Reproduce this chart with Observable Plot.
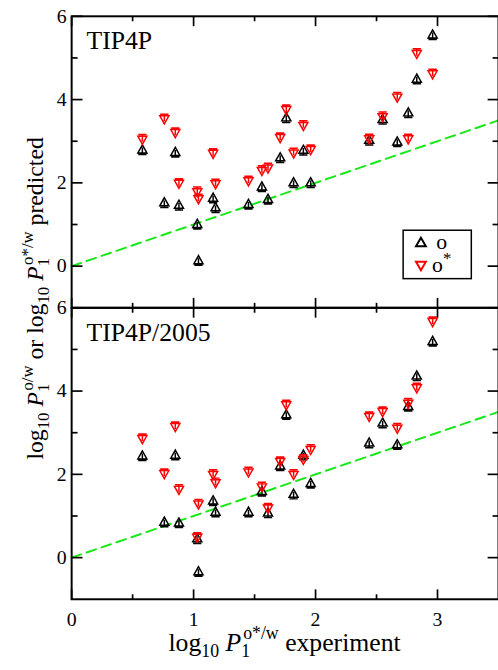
<!DOCTYPE html>
<html>
<head>
<meta charset="utf-8">
<script src="https://cdn.jsdelivr.net/npm/d3@7"></script>
<script src="https://cdn.jsdelivr.net/npm/@observablehq/plot@0.6"></script>
<style>
  html, body { margin: 0; padding: 0; background: white; overflow: hidden; }
  #chart { width: 498px; height: 670px; overflow: hidden; position: relative; }
</style>
</head>
<body>
<div id="chart"></div>
<script>
// ---- data ----
const panels = ["TIP4P", "TIP4P/2005"];
const xExp = [0.58, 0.76, 0.85, 0.88, 1.03, 1.04, 1.16, 1.18, 1.45, 1.56, 1.61, 1.71, 1.76, 1.82, 1.90, 1.96, 2.44, 2.55, 2.67, 2.76, 2.83, 2.96];
const tip4pO = [2.79, 1.52, 2.73, 1.46, 1.00, 0.13, 1.63, 1.40, 1.48, 1.90, 1.60, 2.60, 3.56, 2.00, 2.78, 2.00, 3.02, 3.52, 2.98, 3.68, 4.49, 5.55];
const tip4pOs = [3.05, 3.54, 3.21, 1.99, 1.79, 1.62, 2.71, 1.98, 2.05, 2.30, 2.36, 3.09, 3.76, 2.72, 3.38, 2.80, 3.06, 3.59, 4.06, 3.06, 5.11, 4.62];
const tip2005O = [2.44, 0.85, 2.46, 0.83, 0.45, -0.34, 1.36, 1.09, 1.09, 1.59, 1.07, 2.20, 3.43, 1.52, 2.46, 1.78, 2.75, 3.23, 2.71, 3.63, 4.36, 5.19];
const tip2005Os = [2.86, 2.02, 3.15, 1.64, 0.49, 1.29, 2.00, 1.80, 2.06, 1.70, 1.19, 2.31, 3.67, 2.00, 2.36, 2.60, 3.39, 3.51, 3.11, 3.71, 4.08, 5.67];
const refLine = [0, 3.5];          // y = x guide
const xDomain = [0, 3.5];
const yDomain = [-1, 6];
const xMajor = [0, 1, 2, 3];
const xMinor = [0.5, 1.5, 2.5];
const yMajor = [0, 2, 4, 6];
const yMinor = [1, 3, 5];
const seriesNames = ["o", "o*"];

// ---- build rows ----
const rows = [];
xExp.forEach((x, i) => {
  rows.push({panel: panels[0], series: "o", x, y: tip4pO[i]});
  rows.push({panel: panels[0], series: "o*", x, y: tip4pOs[i]});
  rows.push({panel: panels[1], series: "o", x, y: tip2005O[i]});
  rows.push({panel: panels[1], series: "o*", x, y: tip2005Os[i]});
});

// triangle marker with error-bar stem and cap (xmgrace look)
const triBar = {
  draw(ctx) {
    ctx.moveTo(0, -5.2); ctx.lineTo(-4.6, 3); ctx.lineTo(4.6, 3); ctx.closePath();
    ctx.moveTo(0, -2.5); ctx.lineTo(0, 4.6);
    ctx.moveTo(-4.2, 4.6); ctx.lineTo(4.2, 4.6);
  }
};
const tri = {
  draw(ctx) {
    ctx.moveTo(0, -5.5); ctx.lineTo(-5, 3.2); ctx.lineTo(5, 3.2); ctx.closePath();
  }
};

const serif = "Liberation Serif, Times New Roman, serif";
const fmt = d => String(d);

// layout
const W = 504, H = 670, mL = 72, mR = 0, mT = 16, mB = 64;
const kx = (W - mL - mR) / (xDomain[1] - xDomain[0]);                  // px per x unit
const ky = (H - mT - mB) / panels.length / (yDomain[1] - yDomain[0]);  // px per y unit
const tk = {stroke: "black", strokeWidth: 1.7};
const yTick = (vals, len, side) => Plot.link(vals, {
  y1: d => d, y2: d => d,
  x1: () => side === "left" ? xDomain[0] : xDomain[1],
  x2: () => side === "left" ? xDomain[0] + len / kx : xDomain[1] - len / kx, ...tk});
const xTick = (vals, len, side) => Plot.link(vals, {
  x1: d => d, x2: d => d,
  y1: () => side === "top" ? yDomain[1] : yDomain[0],
  y2: () => side === "top" ? yDomain[1] - len / ky : yDomain[0] + len / ky, ...tk});

const chart = Plot.plot({
  width: W,
  height: H,
  marginLeft: mL,
  marginRight: mR,
  marginTop: mT,
  marginBottom: mB,
  style: {fontFamily: serif, fontSize: "20px", background: "white", color: "black"},
  x: {domain: xDomain},
  y: {domain: yDomain},
  fy: {domain: panels, padding: 0, axis: null},
  marks: [
    Plot.line(refLine, {x: d => d, y: d => d, stroke: "#18e818", strokeWidth: 2, strokeDasharray: "10,6"}),
    Plot.dot(rows.filter(d => d.series === "o"), {x: "x", y: "y", fy: "panel", symbol: triBar, stroke: "black", fill: "none", strokeWidth: 1.5}),
    Plot.dot(rows.filter(d => d.series === "o*"), {x: "x", y: "y", fy: "panel", symbol: triBar, rotate: 180, stroke: "#ff0000", fill: "none", strokeWidth: 1.5}),
    // inward ticks on all four sides of each panel
    yTick(yMajor, 11, "left"), yTick(yMinor, 6, "left"),
    yTick(yMajor, 11, "right"), yTick(yMinor, 6, "right"),
    xTick(xMajor, 10, "top"), xTick(xMinor, 5, "top"),
    xTick(xMajor, 10, "bottom"), xTick(xMinor, 5, "bottom"),
    // tick labels
    Plot.axisY({anchor: "left", ticks: yMajor, tickSize: 0, tickPadding: 5, label: null, fontSize: 20, fontFamily: serif, stroke: "none", tickFormat: fmt}),
    Plot.axisX({anchor: "bottom", ticks: xMajor, tickSize: 0, tickPadding: 13, label: null, fontSize: 20, fontFamily: serif, stroke: "none", tickFormat: fmt}),
    Plot.frame({stroke: "black", strokeWidth: 2}),
    // panel titles
    Plot.text(panels, {fy: d => d, text: d => d, frameAnchor: "top-left", lineAnchor: "top", textAnchor: "start", dx: 15, dy: 15, fontSize: 26, fontFamily: serif, fill: "black"})
  ]
});

document.getElementById("chart").appendChild(chart);

const svg = d3.select(chart);

const sub = 17;
function addLabelParts(t, parts) {
  parts.forEach(p => {
    const ts = t.append("tspan").text(p.t);
    if (p.s) ts.attr("font-size", p.s);
    if (p.dy) ts.attr("dy", p.dy);
    if (p.dx) ts.attr("dx", p.dx);
    if (p.i) ts.attr("font-style", "italic");
  });
}

// y-axis label
const yl = svg.append("text")
  .attr("transform", "translate(44,302) rotate(-90)")
  .attr("text-anchor", "middle")
  .attr("font-family", serif)
  .attr("font-size", 24)
  .attr("fill", "black");
addLabelParts(yl, [
  {t: "log"}, {t: "10", s: sub, dy: 6},
  {t: "\u00A0", s: 24, dy: -6}, {t: "P", i: true},
  {t: "1", s: sub, dy: 6}, {t: "o/w", s: sub, dy: -17, dx: -7},
  {t: " or log", s: 24, dy: 11}, {t: "10", s: sub, dy: 6},
  {t: "\u00A0", s: 24, dy: -6}, {t: "P", i: true},
  {t: "1", s: sub, dy: 6}, {t: "o*/w", s: sub, dy: -17, dx: -7},
  {t: " predicted", s: 24, dy: 11}
]);

// x-axis label
const xl = svg.append("text")
  .attr("x", 288).attr("y", 659)
  .attr("text-anchor", "middle")
  .attr("font-family", serif)
  .attr("font-size", 26)
  .attr("fill", "black");
addLabelParts(xl, [
  {t: "log"}, {t: "10", s: 18, dy: 6},
  {t: "\u00A0", s: 26, dy: -6}, {t: "P", i: true},
  {t: "1", s: 18, dy: 6}, {t: "o*/w", s: 18, dy: -18, dx: -7},
  {t: " experiment", s: 26, dy: 12}
]);

// legend
const lg = svg.append("g");
lg.append("rect").attr("x", 408).attr("y", 233).attr("width", 69).attr("height", 49)
  .attr("fill", "white").attr("stroke", "black").attr("stroke-width", 1.5);
const symPath = d3.symbol(tri)();
lg.append("path").attr("d", symPath).attr("transform", "translate(426,246)")
  .attr("fill", "none").attr("stroke", "black").attr("stroke-width", 2);
lg.append("path").attr("d", symPath).attr("transform", "translate(426,268) rotate(180)")
  .attr("fill", "none").attr("stroke", "#ff0000").attr("stroke-width", 2);
lg.append("text").attr("x", 447).attr("y", 252).attr("font-family", serif).attr("font-size", 22)
  .attr("fill", "black").text(seriesNames[0]);
const l2 = lg.append("text").attr("x", 447).attr("y", 275).attr("font-family", serif).attr("font-size", 22)
  .attr("fill", "black");
l2.append("tspan").text("o");
l2.append("tspan").attr("font-size", 17).attr("dy", -8).text("*");
</script>
</body>
</html>
